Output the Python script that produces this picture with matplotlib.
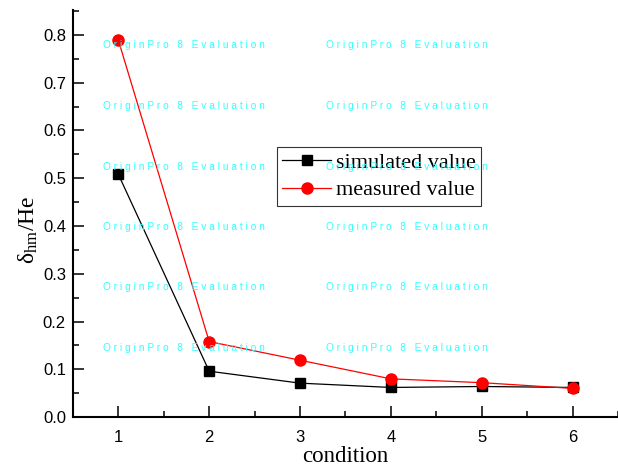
import numpy as np
import matplotlib.pyplot as plt
from matplotlib.ticker import MultipleLocator

condition = [1, 2, 3, 4, 5, 6]
simulated = [0.508, 0.096, 0.071, 0.062, 0.064, 0.062]
measured = [0.789, 0.158, 0.119, 0.080, 0.072, 0.060]

xticks = [1, 2, 3, 4, 5, 6]
yticks = [0.0, 0.1, 0.2, 0.3, 0.4, 0.5, 0.6, 0.7, 0.8]

# Origin watermark rows (axes data coordinates)
wm_rows = [0.778, 0.652, 0.524, 0.398, 0.273, 0.145]
wm_cols = [0.83, 3.29]
wm_text = "O r i g i n P r o   8   E v a l u a t i o n"

plt.rcParams['font.family'] = ['Liberation Sans', 'DejaVu Sans']
plt.rcParams['mathtext.fontset'] = 'custom'
plt.rcParams['mathtext.rm'] = 'Liberation Serif'
plt.rcParams['mathtext.it'] = 'Liberation Serif'

fig = plt.figure(figsize=(6.18, 4.66), dpi=100)
ax = fig.add_axes([0.118, 0.105, 0.882, 0.8735])

for r in wm_rows:
    for c in wm_cols:
        ax.text(c, r, wm_text, color='#33ffff', fontsize=7.3, va='center', ha='left', zorder=10)

ax.plot(condition, simulated, color='black', lw=0.9, marker='s', ms=7,
        mfc='black', mec='black', label='simulated value', zorder=3)
ax.plot(condition, measured, color='red', lw=0.9, marker='o', ms=8,
        mfc='red', mec='red', label='measured value', zorder=4)

ax.set_xlim(0.5, 6.5)
ax.set_ylim(0.0, 0.852)
ax.set_xticks(xticks)
ax.set_yticks(yticks)
ax.xaxis.set_minor_locator(MultipleLocator(0.5))
ax.yaxis.set_minor_locator(MultipleLocator(0.05))
ax.tick_params(which='major', direction='in', length=8, width=1.1, labelsize=12, pad=9)
ax.tick_params(which='minor', direction='in', length=4.5, width=1.1)
ax.tick_params(axis='y', pad=5)

for s in ['top', 'right']:
    ax.spines[s].set_visible(False)
for s in ['left', 'bottom']:
    ax.spines[s].set_linewidth(1.5)

ax.set_xlabel('condition', family='Liberation Serif', fontsize=16.5, labelpad=1)
ax.set_ylabel('δ$_{\\rm hm}$/He', family='Liberation Serif', fontsize=17, labelpad=2)
ax.yaxis.label.set_y(0.46)

leg = ax.legend(loc='upper left', bbox_to_anchor=(0.448, 0.6845), bbox_transform=fig.transFigure,
                prop={'family': 'Liberation Serif', 'size': 16}, frameon=True, fancybox=False,
                edgecolor='black', borderpad=0.25, labelspacing=0.3, handlelength=2.2,
                handletextpad=0.2, borderaxespad=0)
leg.get_frame().set_linewidth(0.8)
leg.set_zorder(5)

fig.savefig('out.png', dpi=100)
